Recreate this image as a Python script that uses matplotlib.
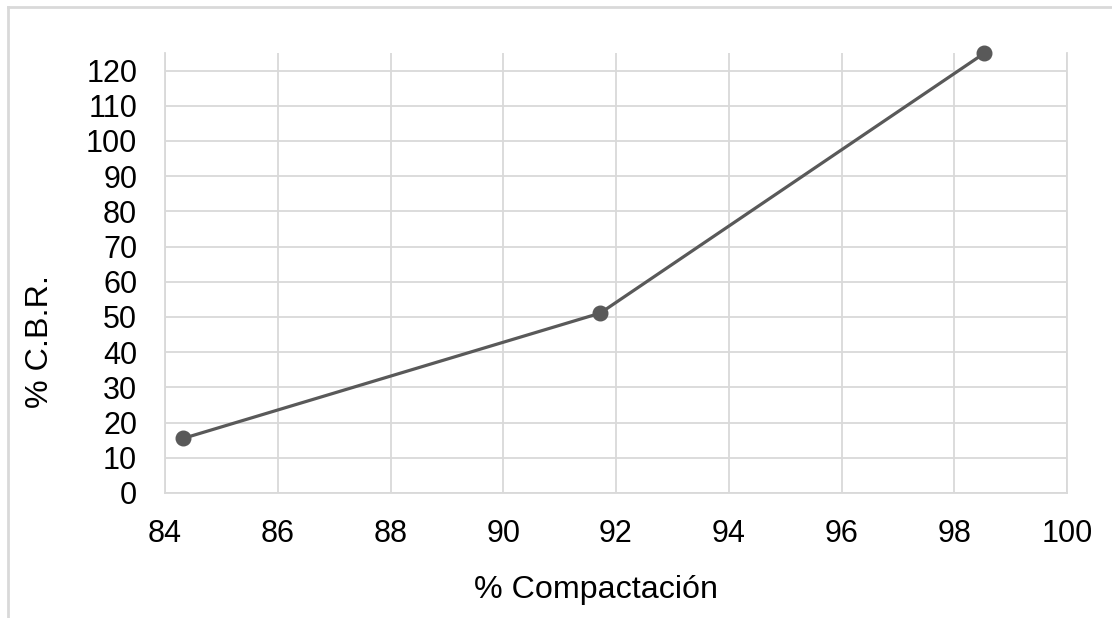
import matplotlib
matplotlib.use("Agg")
import matplotlib.pyplot as plt
from matplotlib.lines import Line2D

# data
compactacion = [84.32, 91.72, 98.53]
cbr = [15.5, 51.1, 124.9]
x_ticks = [84, 86, 88, 90, 92, 94, 96, 98, 100]
y_ticks = [0, 10, 20, 30, 40, 50, 60, 70, 80, 90, 100, 110, 120]

plt.rcParams["font.family"] = ["Liberation Sans", "DejaVu Sans"]

GRID = "#d9d9d9"
LINE = "#595959"

fig = plt.figure(figsize=(11.12, 6.18), dpi=100)
ax = fig.add_axes([165 / 1112, 1 - 493 / 618, (1067 - 165) / 1112, (493 - 53) / 618])

ax.plot(compactacion, cbr, color=LINE, lw=2.3, marker="o", ms=10.5,
        markerfacecolor=LINE, markeredgecolor=LINE, zorder=3, clip_on=False)

ax.set_xlim(84, 100)
ax.set_ylim(0, 125)
ax.set_xticks(x_ticks)
ax.set_yticks(y_ticks)
ax.grid(True, color=GRID, lw=1.3)
ax.set_axisbelow(True)
ax.tick_params(length=0, labelsize=22, colors="#000000")
ax.tick_params(axis="x", pad=18.5)
ax.tick_params(axis="y", pad=20)

for side in ("left", "bottom", "right"):
    ax.spines[side].set_color(GRID)
    ax.spines[side].set_linewidth(1.3)
ax.spines["top"].set_visible(False)

fig.text(40 / 1112, 1 - 342 / 618, "% C.B.R.", rotation=90, ha="center", va="center", fontsize=23.2)
fig.text(596 / 1112, 1 - 590 / 618, "% Compactación", ha="center", va="center", fontsize=23.2)

# outer chart frame (left and top edges visible)
fig.add_artist(Line2D([8 / 1112, 8 / 1112], [0, 1 - 7 / 618], color="#d9d9d9", lw=2,
                      transform=fig.transFigure))
fig.add_artist(Line2D([8 / 1112, 1], [1 - 7 / 618, 1 - 7 / 618], color="#d9d9d9", lw=2,
                      transform=fig.transFigure))

fig.savefig("out.png", dpi=100)
